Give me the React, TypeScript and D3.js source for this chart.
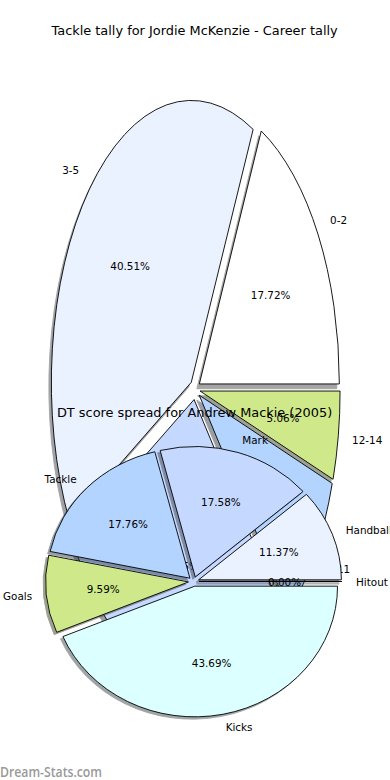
import React from 'react';
import * as d3 from 'd3';

const W = 390;
const H = 780;

// Pie 1 — Tackle tally (counts)
const tallyTitle = 'Tackle tally for Jordie McKenzie - Career tally';
const tallyLabels = ['0-2', '3-5', '6-8', '9-11', '12-14'];
const tallyValues = [14, 32, 22, 7, 4];
const tallyColors = ['#ffffff', '#eaf1ff', '#c5d8ff', '#b3d4ff', '#cfe98a'];

// Pie 2 — DT score spread (%)
const dtTitle = 'DT score spread for Andrew Mackie (2005)';
const dtLabels = ['Hitout', 'Handball', 'Mark', 'Tackle', 'Goals', 'Kicks'];
const dtValues = [0.0, 11.37, 17.58, 17.76, 9.59, 43.69];
const dtColors = ['#ffffff', '#eaf1ff', '#c5d8ff', '#b3d4ff', '#cfe98a', '#dcffff'];

const FONT = '"DejaVu Sans", Verdana, sans-serif';

type PieProps = {
  labels: string[];
  values: number[];
  colors: string[];
  cx: number;
  cy: number;
  rx: number;
  ry: number;
  explode: number;
  shadowDx: number;
  shadowDy: number;
};

function shadowColor(c: string) {
  const rgb = d3.rgb(c);
  return d3.rgb(rgb.r * 0.3, rgb.g * 0.3, rgb.b * 0.3).formatHex();
}

function Pie({ labels, values, colors, cx, cy, rx, ry, explode, shadowDx, shadowDy }: PieProps) {
  const total = d3.sum(values);
  const pie = d3
    .pie<number>()
    .sort(null)
    .value((d) => d)
    .startAngle(Math.PI / 2)
    .endAngle(Math.PI / 2 - 2 * Math.PI);
  const arcs = pie(values);
  const arcGen = d3.arc<any>().innerRadius(0).outerRadius(1);

  const items = arcs.map((a, i) => {
    const mid = (a.startAngle + a.endAngle) / 2;
    const ux = Math.sin(mid);
    const uy = -Math.cos(mid);
    const ox = cx + explode * rx * ux;
    const oy = cy + explode * ry * uy;
    const d = arcGen({ startAngle: a.startAngle, endAngle: a.endAngle }) as string;
    return {
      i,
      d,
      ox,
      oy,
      ux,
      uy,
      lx: ox + 1.1 * rx * ux,
      ly: oy + 1.1 * ry * uy,
      px: ox + 0.6 * rx * ux,
      py: oy + 0.6 * ry * uy,
      pct: ((values[i] / total) * 100).toFixed(2) + '%',
    };
  });

  return (
    <g>
      <g>
        {items.map((it) => (
          <path
            key={'s' + it.i}
            d={it.d}
            transform={`translate(${it.ox + shadowDx},${it.oy + shadowDy}) scale(${rx},${ry})`}
            fill={shadowColor(colors[it.i])}
            stroke={shadowColor(colors[it.i])}
            strokeWidth={0.9}
            vectorEffect="non-scaling-stroke"
            opacity={0.5}
          />
        ))}
      </g>
      <g>
        {items.map((it) => (
          <path
            key={'w' + it.i}
            d={it.d}
            transform={`translate(${it.ox},${it.oy}) scale(${rx},${ry})`}
            fill={colors[it.i]}
            stroke="#000"
            strokeWidth={0.9}
            vectorEffect="non-scaling-stroke"
          />
        ))}
      </g>
      <g fontFamily={FONT} fontSize={10.4} fill="#000">
        {items.map((it) => (
          <React.Fragment key={'t' + it.i}>
            <text
              x={it.lx}
              y={it.ly}
              textAnchor={it.ux > 0 ? 'start' : 'end'}
              dominantBaseline="central"
            >
              {labels[it.i]}
            </text>
            <text x={it.px} y={it.py} textAnchor="middle" dominantBaseline="central">
              {it.pct}
            </text>
          </React.Fragment>
        ))}
      </g>
    </g>
  );
}

export default function App() {
  return (
    <svg
      width={W}
      height={H}
      viewBox={`0 0 ${W} ${H}`}
      style={{ position: 'absolute', left: 0, top: 0, background: '#fff' }}
    >
      <rect x={0} y={0} width={W} height={H} fill="#fff" />
      <Pie
        labels={tallyLabels}
        values={tallyValues}
        colors={tallyColors}
        cx={195}
        cy={389.4}
        rx={140}
        ry={282}
        explode={0.0366}
        shadowDx={-2.5}
        shadowDy={4.8}
      />
      <text
        x={194.6}
        y={30}
        textAnchor="middle"
        dominantBaseline="central"
        fontFamily={FONT}
        fontSize={12.9}
        fill="#000"
      >
        {tallyTitle}
      </text>
      <text
        x={194.6}
        y={412.7}
        textAnchor="middle"
        dominantBaseline="central"
        fontFamily={FONT}
        fontSize={12.9}
        fill="#000"
      >
        {dtTitle}
      </text>
      <Pie
        labels={dtLabels}
        values={dtValues}
        colors={dtColors}
        cx={193.7}
        cy={581.5}
        rx={142.8}
        ry={130.5}
        explode={0.0366}
        shadowDx={-2.5}
        shadowDy={2.3}
      />
      <text
        x={0}
        y={777}
        fontFamily='"Open Sans", sans-serif'
        fontWeight={600}
        fontSize={13.5}
        fill="#999"
        textLength={102}
        lengthAdjust="spacingAndGlyphs"
      >
        Dream-Stats.com
      </text>
    </svg>
  );
}
